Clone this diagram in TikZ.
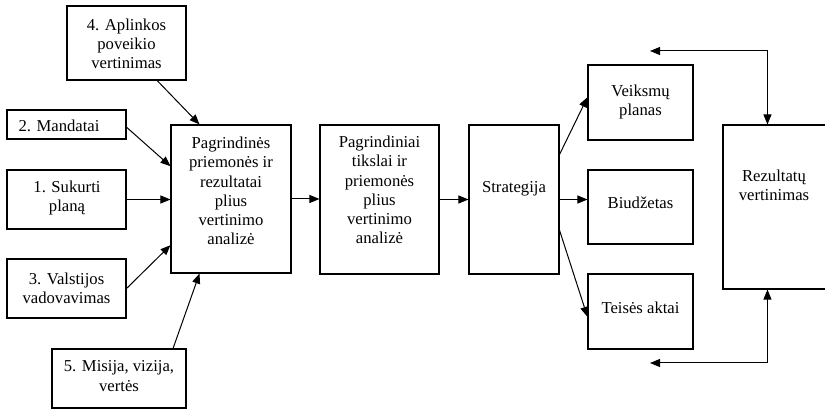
\documentclass[tikz,border=0pt]{standalone}
\usepackage{fontspec}
\setmainfont{Liberation Serif}
\usetikzlibrary{arrows.meta,calc}
\tikzset{
  box/.style 2 args={draw, line width=0.8pt, inner sep=0pt,
    minimum width=0.75pt*#1, minimum height=0.75pt*#2},
  lbl/.style={align=center, inner sep=0pt,
    font=\fontsize{12.5}{14.4}\selectfont},
  arr/.style={line width=0.75pt, -{Triangle[length=7.5pt,width=6pt]}},
  darr/.style={line width=0.75pt,
    {Triangle[length=7.5pt,width=6pt]}-{Triangle[length=7.5pt,width=6pt]}}
}
\begin{document}
\begin{tikzpicture}[x=0.75pt, y=-0.75pt]
\clip (0,0) rectangle (825,409);

% input boxes
\node[box={119}{74}]  (n4) at (126.5,43)   {};
\node[box={119}{29}]  (n2) at (66.5,124.5) {};
\node[box={119}{59}]  (n1) at (66.5,199.5) {};
\node[box={119}{59}]  (n3) at (66.5,288.5) {};
\node[box={134}{59}]  (n5) at (119,378.5)  {};

% main chain
\node[box={120}{148}] (A)  at (231,199)    {};
\node[box={119}{149}] (B)  at (379.5,199.5) {};
\node[box={90}{149}]  (S)  at (514,199.5)  {};

% outputs
\node[box={105}{75}]  (V)  at (640.5,102.5) {};
\node[box={105}{74}]  (Bi) at (640.5,207)   {};
\node[box={105}{75}]  (T)  at (640.5,311.5) {};

% evaluation box, running off the right edge
\node[box={107}{164}] (R)  at (776.5,207)   {};

% texts
\node[lbl] (t4) at (126.5,44) {4. Aplinkos\\poveikio\\vertinimas};
\node[lbl] (t2) at (59,126)   {2. Mandatai};
\node[lbl] (t1) at (67,198)   {1. Sukurti\\planą};
\node[lbl] (t3) at (66.5,288) {3. Valstijos\\vadovavimas};
\node[lbl] (t5) at (119,376)  {5. Misija, vizija,\\vertės};
\node[lbl] (tA) at (231,191)  {Pagrindinės\\priemonės ir\\rezultatai\\plius\\vertinimo\\analizė};
\node[lbl] (tB) at (379.5,190) {Pagrindiniai\\tikslai ir\\priemonės\\plius\\vertinimo\\analizė};
\node[lbl] (tS) at (514,189)  {Strategija};
\node[lbl] (tV) at (640.5,102) {Veiksmų\\planas};
\node[lbl] (tBi) at (640.5,203) {Biudžetas};
\node[lbl] (tT) at (640.5,308) {Teisės aktai};
\node[lbl] (tR) at (774,185)  {Rezultatų\\vertinimas};

% inputs into the first analysis box
\draw[arr] ($(n4.south west)!0.755!(n4.south east)$) -- ($(A.north west)!0.24!(A.north east)$);
\draw[arr] ($(n2.north east)!0.59!(n2.south east)$) -- ($(A.north west)!0.28!(A.south west)$);
\draw[arr] (n1.east) -- (n1.east -| A.west);
\draw[arr] (n3.east) -- ($(A.north west)!0.81!(A.south west)$);
\draw[arr] ($(n5.north west)!0.9!(n5.north east)$) -- ($(A.south west)!0.24!(A.south east)$);

% main chain
\draw[arr] (A.east) -- (A.east -| B.west);
\draw[arr] (B.east) -- (B.east -| S.west);

% strategy outputs
\draw[arr] ($(S.north east)!0.2!(S.south east)$) -- ($(V.north west)!0.43!(V.south west)$);
\draw[arr] (S.east) -- (S.east -| Bi.west);
\draw[arr] ($(S.north east)!0.705!(S.south east)$) -- ($(T.north west)!0.57!(T.south west)$);

% feedback of the evaluation
\coordinate (fbtop) at (650,51);
\coordinate (fbbot) at (650,363);
\draw[darr] (fbtop) -| ($(R.north west)+(45,0)$);
\draw[darr] (fbbot) -| ($(R.south west)+(45,0)$);
\end{tikzpicture}
\end{document}
